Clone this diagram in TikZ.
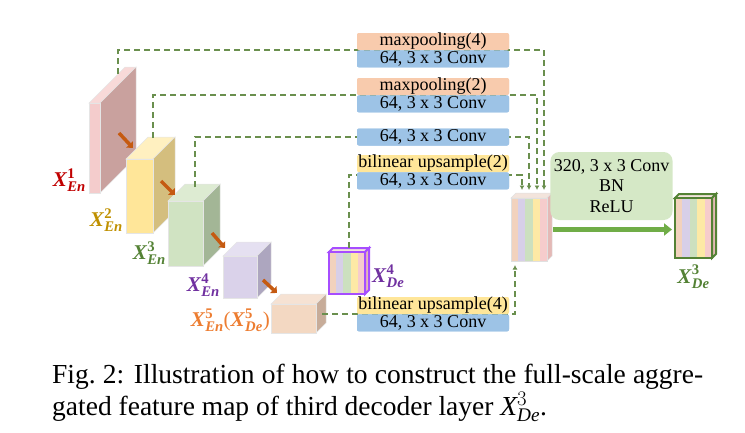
\documentclass[tikz,border=0pt]{standalone}
\usepackage{amsmath}
\usepackage{fontspec}
\setmainfont{Liberation Serif}
\usetikzlibrary{calc}
\usetikzlibrary{positioning}
\usetikzlibrary{arrows.meta}

\definecolor{encred}{HTML}{C00000}
\definecolor{encgold}{HTML}{BF9000}
\definecolor{encgreen}{HTML}{548235}
\definecolor{encpurple}{HTML}{7030A0}
\definecolor{encorange}{HTML}{ED7D31}
\definecolor{skipgreen}{HTML}{6A8F4E}
\definecolor{downorange}{HTML}{C55A11}
\definecolor{poolpeach}{HTML}{F8CBAD}
\definecolor{upyellow}{HTML}{FFE699}
\definecolor{convblue}{HTML}{9DC3E6}
\definecolor{fusegreen}{HTML}{D5E8C6}
\definecolor{fusearrow}{HTML}{70AD47}
\definecolor{decframe}{HTML}{A64DFF}
\definecolor{outframe}{HTML}{548235}
\definecolor{stripeA}{HTML}{F2D2BD}
\definecolor{stripeB}{HTML}{D7CFE8}
\definecolor{stripeC}{HTML}{CCE0BF}
\definecolor{stripeD}{HTML}{FDE9A5}
\definecolor{stripeE}{HTML}{F6CCCC}
\definecolor{cubetop}{HTML}{F3E4DC}
\definecolor{cubeside}{HTML}{E4B9B6}
% encoder faces: front, top, side
\definecolor{oneF}{HTML}{F4CCCC}\definecolor{oneT}{HTML}{F8D9D8}\definecolor{oneS}{HTML}{C9A19E}
\definecolor{twoF}{HTML}{FFE699}\definecolor{twoT}{HTML}{FFF0C0}\definecolor{twoS}{HTML}{D4BE7E}
\definecolor{threeF}{HTML}{D0E3C2}\definecolor{threeT}{HTML}{DDEBD2}\definecolor{threeS}{HTML}{A3B696}
\definecolor{fourF}{HTML}{DAD2EA}\definecolor{fourT}{HTML}{E5E0F1}\definecolor{fourS}{HTML}{ADA6BF}
\definecolor{fiveF}{HTML}{F3D8C2}\definecolor{fiveT}{HTML}{F6E2D3}\definecolor{fiveS}{HTML}{C7AC99}

\newcommand{\tagfont}{\fontsize{18}{20.5}\selectfont}
\newcommand{\featlab}[2]{$\textbf{\textit{X}}^{\textbf{#1}}_{\textbf{\textit{#2}}}$}

% name, x, y, width, height, depth, front, top, side
\newcommand{\featcube}[9]{%
  \filldraw[fill=#8, cubeedge] (#2,#3) -- ++(#6,-#6) -- ++(#4,0) -- ++(-#6,#6) -- cycle;
  \filldraw[fill=#9, cubeedge] (#2+#4,#3) -- ++(#6,-#6) -- ++(0,#5) -- ++(-#6,#6) -- cycle;
  \node[cubeface, fill=#7, minimum width=#4pt, minimum height=#5pt, anchor=north west] (#1) at (#2,#3) {};
}
% name, x, y, width, height, depth, frame
\newcommand{\stripecube}[7]{%
  \filldraw[fill=cubetop, #7] (#2,#3) -- ++(#6,-#6) -- ++(#4,0) -- ++(-#6,#6) -- cycle;
  \filldraw[fill=cubeside, #7] (#2+#4,#3) -- ++(#6,-#6) -- ++(0,#5) -- ++(-#6,#6) -- cycle;
  \foreach \c [count=\i from 0] in {stripeA,stripeB,stripeC,stripeD,stripeE}
    \fill[\c] (#2+\i*#4/5,#3) rectangle ++(#4/5,#5);
  \node[cubeface, #7, minimum width=#4pt, minimum height=#5pt, anchor=north west] (#1) at (#2,#3) {};
}

\begin{document}
\begin{tikzpicture}[x=1pt, y=-1pt,
    cubeedge/.style={draw=black!10, line width=0.5pt},
    cubeface/.style={cubeedge, inner sep=0pt, outer sep=0pt},
    tagbox/.style={minimum width=152pt, minimum height=17pt, inner sep=0pt, rounded corners=2pt, font=\tagfont},
    poolbox/.style={tagbox, fill=poolpeach},
    upbox/.style={tagbox, fill=upyellow},
    convbox/.style={tagbox, fill=convblue},
    fusebox/.style={fill=fusegreen, rounded corners=9pt, minimum width=113pt, minimum height=68pt, align=center, font=\tagfont},
    skipline/.style={draw=skipgreen, line width=1.9pt, dash pattern=on 6pt off 4pt, -{Latex[length=4.5pt,width=5pt]}},
    downarrow/.style={draw=downorange, line width=3.5pt, -{Triangle[length=5pt,width=9pt]}},
    enclab/.style={font=\fontsize{21}{21}\selectfont, inner sep=1pt},
    node distance=0pt
  ]
  \useasboundingbox (0,0) rectangle (745,432);

  % encoder blocks
  \featcube{enc1}{89}{103}{11}{90}{36}{oneF}{oneT}{oneS}
  \featcube{enc2}{126}{159}{27}{74}{22}{twoF}{twoT}{twoS}
  \featcube{enc3}{168}{201}{35}{65}{17}{threeF}{threeT}{threeS}
  \featcube{enc4}{223}{256}{34}{42}{14}{fourF}{fourT}{fourS}
  \featcube{enc5}{271}{304}{45}{29}{10}{fiveF}{fiveT}{fiveS}

  % decoder blocks
  \stripecube{dec4}{329}{252}{36}{42}{4}{draw=decframe, line width=2pt}
  \stripecube{cat}{511}{198}{36}{63}{5}{draw=black!12, line width=0.5pt}
  \stripecube{dec3}{675}{198}{37}{60}{4}{draw=outframe, line width=2pt}

  \node[enclab, text=encred, left=2pt of enc1.south west, anchor=south east] (lab1) {\featlab{1}{En}};
  \node[enclab, text=encgold, left=2pt of enc2.south west, anchor=south east] (lab2) {\featlab{2}{En}};
  \node[enclab, text=encgreen, left=1pt of enc3.south west, anchor=south east] (lab3) {\featlab{3}{En}};
  \node[enclab, text=encpurple, left=2pt of enc4.south west, anchor=south east] (lab4) {\featlab{4}{En}};
  \node[enclab, text=encorange, left=0pt of enc5.south west, anchor=south east] (lab5) {\featlab{5}{En}(\featlab{5}{De})};
  \node[enclab, text=encpurple, right=6pt of dec4.south east, anchor=south west, yshift=5pt] (labd4) {\featlab{4}{De}};
  \node[enclab, text=outframe, below=6pt of dec3.south] (labd3) {\featlab{3}{De}};

  % down-sampling arrows
  \coordinate (o1s) at (119,133); \coordinate (o1e) at (133,148);
  \coordinate (o2s) at (161,181); \coordinate (o2e) at (175,195);
  \coordinate (o3s) at (212,233); \coordinate (o3e) at (225,248);
  \coordinate (o4s) at (263,280); \coordinate (o4e) at (277,293);
  \draw[downarrow] (o1s) -- (o1e);
  \draw[downarrow] (o2s) -- (o2e);
  \draw[downarrow] (o3s) -- (o3e);
  \draw[downarrow] (o4s) -- (o4e);

  % skip connections
  \coordinate (s1) at (118,74);
  \coordinate (s2) at (153,138);
  \coordinate (s3) at (195,187);
  \coordinate (s4) at (349,248);
  \coordinate (s5) at (322,314);
  \coordinate (in1) at (544,190);
  \coordinate (in2) at (537,190);
  \coordinate (in3) at (529,190);
  \coordinate (in4) at (522,190);
  \coordinate (in5) at (515,265);

  \node[poolbox] (mp4) at (433,41.5) {maxpooling(4)};
  \node[convbox, below=of mp4] (mp4c) {64, 3 x 3 Conv};
  \node[poolbox] (mp2) at (433,86.5) {maxpooling(2)};
  \node[convbox, below=of mp2] (mp2c) {64, 3 x 3 Conv};
  \node[convbox] (cv3) at (433,137) {64, 3 x 3 Conv};
  \node[upbox] (up2) at (433,163.5) {bilinear upsample(2)};
  \node[convbox, below=of up2] (up2c) {64, 3 x 3 Conv};
  \node[upbox] (up4) at (433,305.5) {bilinear upsample(4)};
  \node[convbox, below=of up4] (up4c) {64, 3 x 3 Conv};

  \draw[skipline] (s1) |- (mp4c.north) -| (in1);
  \draw[skipline] (s2) |- (mp2c.north) -| (in2);
  \draw[skipline] (s3) |- (cv3.west) -| (in3);
  \draw[skipline] (s4) |- ([yshift=-3pt]up2c.north) -| (in4);
  \draw[skipline] (s5) -| (in5);

  % boxes again on top of the lines
  \node[poolbox] at (mp4) {maxpooling(4)};
  \node[convbox] at (mp4c) {64, 3 x 3 Conv};
  \node[poolbox] at (mp2) {maxpooling(2)};
  \node[convbox] at (mp2c) {64, 3 x 3 Conv};
  \node[convbox] at (cv3) {64, 3 x 3 Conv};
  \node[upbox] at (up2) {bilinear upsample(2)};
  \node[convbox] at (up2c) {64, 3 x 3 Conv};
  \node[upbox] at (up4) {bilinear upsample(4)};
  \node[convbox] at (up4c) {64, 3 x 3 Conv};

  % fusion
  \node[fusebox] (fuse) at (611.5,186) {320, 3 x 3 Conv\\BN\\ReLU};
  \draw[draw=fusearrow, line width=5pt, -{Triangle[length=8pt,width=12pt]}]
    ([xshift=6pt]cat.east) -- ([xshift=-3pt]cat.east -| dec3.west);

  \node[text width=651pt, align=justify, anchor=base west, inner sep=0pt,
        font=\fontsize{27.5}{32}\selectfont] (cap) at (52,383)
    {Fig.\ 2: Illustration of how to construct the full-scale aggre-\linebreak
     gated feature map of third decoder layer $\textit{X}^{3}_{\textit{De}}$.};
\end{tikzpicture}
\end{document}
